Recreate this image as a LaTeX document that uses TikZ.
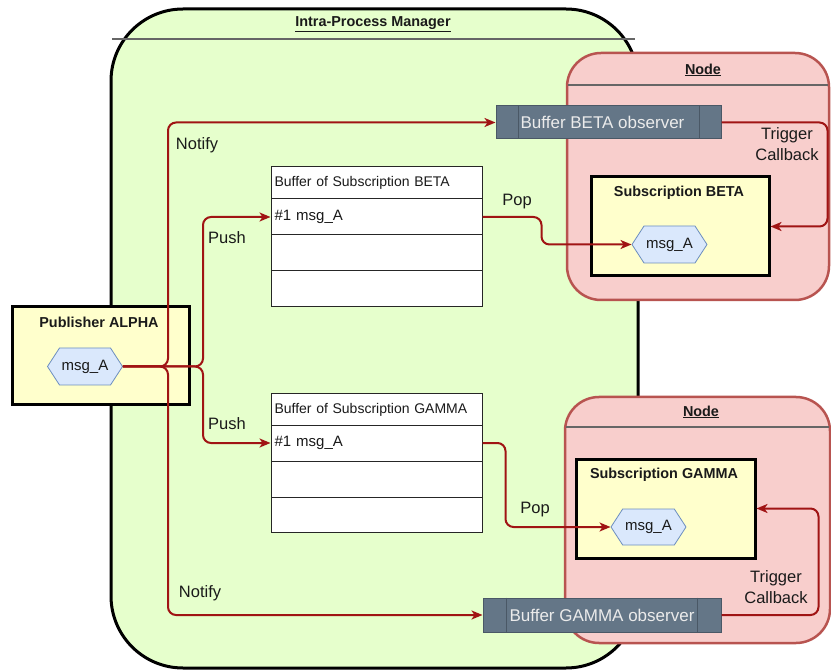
\documentclass[tikz,border=0pt]{standalone}
\usepackage{fontspec}
\setmainfont{Liberation Sans}
\usetikzlibrary{arrows.meta,shapes.symbols}
\definecolor{mgrgreen}{HTML}{E6FFCC}
\definecolor{nodepink}{HTML}{F8CECC}
\definecolor{nodeborder}{HTML}{B85450}
\definecolor{subyellow}{HTML}{FFFFCC}
\definecolor{hexblue}{HTML}{DAE8FC}
\definecolor{hexborder}{HTML}{6C8EBF}
\definecolor{obsfill}{HTML}{647687}
\definecolor{obsborder}{HTML}{4A5866}
\definecolor{arrowred}{HTML}{A01414}
\definecolor{txt}{HTML}{1A1A1A}
\newcommand{\fs}[1]{\fontsize{#1}{#1}\selectfont}
\tikzset{
  mgrbox/.style={draw=black, line width=3pt, fill=mgrgreen, rounded corners=72pt, minimum width=527pt, minimum height=659pt, inner sep=0pt},
  nodebox/.style={draw=nodeborder, line width=2.5pt, fill=nodepink, rounded corners=34pt, inner sep=0pt},
  subbox/.style={draw=black, line width=3pt, fill=subyellow, inner sep=0pt},
  hexmsg/.style={shape=signal, signal to=west and east, signal pointer angle=114, draw=hexborder, line width=0.8pt, fill=hexblue, minimum width=75pt, minimum height=37pt, inner sep=0pt, font=\fs{15}, text=txt},
  obsbox/.style={draw=obsborder, line width=1pt, fill=obsfill, inner sep=0pt, font=\fs{17}, text=white!92!black},
  obsline/.style={draw=obsborder, line width=1pt},
  cell/.style={draw=black!85, line width=1pt, fill=white, minimum width=211pt, text width=204pt, inner xsep=3pt, inner ysep=0pt, align=left, text=txt},
  title/.style={font=\bfseries\fs{14.4}, text=txt},
  sepline/.style={draw=black!60, line width=1.5pt},
  conn/.style={draw=arrowred, line width=2pt, rounded corners=8pt, -{Stealth[length=11pt,width=9pt,inset=3pt]}},
  lbl/.style={font=\fontsize{16.5}{20.5}\selectfont, text=txt, align=center},
}
\begin{document}
\begin{tikzpicture}[x=1pt,y=-1pt]
\useasboundingbox (0,0) rectangle (831,671);
% Intra-Process Manager
\node[mgrbox] (ipm) at (374.5,338.5) {};
\node[title] (ipmtitle) at (373,24) {\underline{Intra-Process Manager}};
\draw[sepline] (112,39) -- (635,39);
% Node boxes
\node[nodebox, minimum width=262pt, minimum height=247pt] (nodeB) at (698,176.5) {};
\node[title] (nodeBtitle) at (703,70) {\underline{Node}};
\draw[sepline] (568,85) -- (828,85);
\node[nodebox, minimum width=265pt, minimum height=246pt] (nodeG) at (697.5,520) {};
\node[title] (nodeGtitle) at (701,412) {\underline{Node}};
\draw[sepline] (566,427) -- (829,427);
% Buffers (tables)
\node[cell, minimum height=32pt, font=\fs{14}] (hdB) at (376.5,183) {Buffer of Subscription BETA};
\node[cell, minimum height=36pt, font=\fs{15}] (rowB1) at (376.5,217) {\#1 msg\_A};
\node[cell, minimum height=36pt] (rowB2) at (376.5,253) {};
\node[cell, minimum height=36pt] (rowB3) at (376.5,289) {};
\node[cell, minimum height=31pt, font=\fs{14}] (hdG) at (376.5,409.5) {Buffer of Subscription GAMMA};
\node[cell, minimum height=36pt, font=\fs{15}] (rowG1) at (376.5,443) {\#1 msg\_A};
\node[cell, minimum height=36pt] (rowG2) at (376.5,479) {};
\node[cell, minimum height=35pt] (rowG3) at (376.5,514.5) {};
% Publisher
\node[subbox, minimum width=177pt, minimum height=98pt] (pub) at (100.5,356) {};
\node[title] (pubtitle) at (99,322) {Publisher ALPHA};
\node[hexmsg] (msgP) at (85,366.5) {msg\_A};
% Subscriptions
\node[subbox, minimum width=178pt, minimum height=99pt] (subB) at (680,226.5) {};
\node[title] (subBtitle) at (679,193) {Subscription BETA};
\node[hexmsg] (msgB) at (669.5,244.5) {msg\_A};
\node[subbox, minimum width=179pt, minimum height=99pt] (subG) at (665.5,508.5) {};
\node[title] (subGtitle) at (664,475) {Subscription GAMMA};
\node[hexmsg, minimum height=36pt] (msgG) at (648.5,527) {msg\_A};
% Observers
\node[obsbox, minimum width=225pt, minimum height=33pt] (obsB) at (608.5,122.5) {Buffer BETA observer\hspace*{12pt}};
\draw[obsline] ([xshift=23pt]obsB.north west) -- ([xshift=23pt]obsB.south west);
\draw[obsline] ([xshift=-22pt]obsB.north east) -- ([xshift=-22pt]obsB.south east);
\node[obsbox, minimum width=238pt, minimum height=34pt] (obsG) at (602,615) {Buffer GAMMA observer};
\draw[obsline] ([xshift=24pt]obsG.north west) -- ([xshift=24pt]obsG.south west);
\draw[obsline] ([xshift=-24pt]obsG.north east) -- ([xshift=-24pt]obsG.south east);
% Connectors
\coordinate (jn) at (168,366.5);
\coordinate (jp) at (203,366.5);
\draw[conn] (msgP.east) -- (jn) |- (obsB.west);
\draw[conn] (msgP.east) -- (jn) |- (obsG.west);
\draw[conn] (msgP.east) -- (jp) |- (rowB1.west);
\draw[conn] (msgP.east) -- (jp) |- (rowG1.west);
\draw[conn] (rowB1.east) -- ++(59,0) |- (msgB.west);
\draw[conn] (rowG1.east) -- ++(23,0) |- (msgG.west);
\draw[conn] (obsB.east) -- ++(106,0) |- (subB.east);
\draw[conn] (obsG.east) -- ++(97,0) |- (subG.east);
% Labels
\node[lbl] (lnB) at (197,145) {Notify};
\node[lbl] (lnG) at (200,593) {Notify};
\node[lbl] (lpB) at (227,238) {Push};
\node[lbl] (lpG) at (227,424) {Push};
\node[lbl] (lopB) at (517,202) {Pop};
\node[lbl] (lopG) at (535,510) {Pop};
\node[lbl] (ltB) at (787,144) {Trigger\\Callback};
\node[lbl] (ltG) at (776,587) {Trigger\\Callback};
\end{tikzpicture}
\end{document}
